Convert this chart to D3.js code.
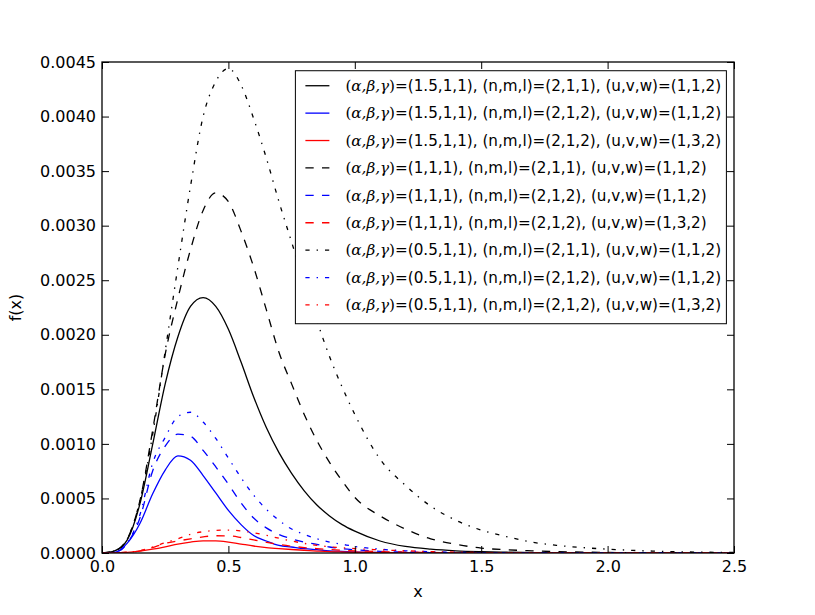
<!DOCTYPE html>
<html lang="en">
<head>
    <meta charset="UTF-8">
    <title>f(x)</title>
    <style>
        body {
            margin: 0;
            background: #fff;
        }

        text {
            font-family: 'DejaVu Sans', sans-serif;
        }
    </style>
</head>
<body>
<script src="https://cdnjs.cloudflare.com/ajax/libs/d3/7.8.5/d3.min.js"></script>
<script>
    const xs = [0, 0.05, 0.1, 0.15, 0.2, 0.25, 0.3, 0.35, 0.4, 0.45, 0.5, 0.55, 0.6, 0.65, 0.7, 0.75, 0.8, 0.85, 0.9, 0.95, 1.0,
        1.1, 1.2, 1.3, 1.4, 1.5, 1.6, 1.7, 1.8, 1.9, 2.0, 2.1, 2.2, 2.3, 2.4, 2.5];

    const blackSolid = [0, 0.00002, 0.00012, 0.00045, 0.00099, 0.00155, 0.00198, 0.00226, 0.00234, 0.00226, 0.00205, 0.00175, 0.00143, 0.00115, 0.00092, 0.00073, 0.00057, 0.00044, 0.00034, 0.00026, 0.00020,
        0.00011, 0.00006, 0.000035, 0.00002, 0.000012, 0.000007, 0.000004, 0.000002, 0.000001, 0, 0, 0, 0, 0, 0];
    const blueSolid = [0, 0.000005, 0.00009, 0.00027, 0.00054, 0.00076, 0.00089, 0.00085, 0.00071, 0.00055, 0.00039, 0.00026, 0.00016, 0.00011, 0.00007, 0.000055, 0.00004, 0.00003, 0.00002, 0.000015, 0.00001,
        0.000005, 0.000003, 0.000001, 0, 0, 0, 0, 0, 0, 0, 0, 0, 0, 0, 0];
    const redSolid = [0, 0.000001, 0.000006, 0.000018, 0.000035, 0.000057, 0.000082, 0.0001, 0.000112, 0.000111, 0.0001, 0.000082, 0.000064, 0.00005, 0.00004, 0.000032, 0.000025, 0.000018, 0.000012, 0.000009, 0.000007,
        0.000004, 0.000002, 0.000001, 0, 0, 0, 0, 0, 0, 0, 0, 0, 0, 0, 0];
    const blackDashed = [0, 0.00002, 0.00013, 0.00048, 0.00112, 0.00182, 0.00233, 0.00278, 0.00314, 0.00330, 0.00322, 0.00295, 0.00262, 0.00223, 0.00184, 0.00155, 0.00127, 0.00103, 0.00083, 0.00066, 0.00051,
        0.00034, 0.00022, 0.00013, 0.00008, 0.000045, 0.00003, 0.00002, 0.000012, 0.000008, 0.000005, 0.000003, 0.000002, 0.000001, 0, 0];
    const blueDashed = [0, 0.000005, 0.00009, 0.00032, 0.00075, 0.00098, 0.00109, 0.00107, 0.00094, 0.00079, 0.00063, 0.00046, 0.00032, 0.00023, 0.00017, 0.00013, 0.00010, 0.00008, 0.000055, 0.00004, 0.00003,
        0.000015, 0.000008, 0.000004, 0.000002, 0, 0, 0, 0, 0, 0, 0, 0, 0, 0, 0];
    const redDashed = [0, 0.000001, 0.000007, 0.00002, 0.00005, 0.000088, 0.00011, 0.00013, 0.000148, 0.000158, 0.000157, 0.000142, 0.00012, 0.000098, 0.000078, 0.000062, 0.00005, 0.00004, 0.000032, 0.000025, 0.00002,
        0.000013, 0.000008, 0.000005, 0.000003, 0.000002, 0, 0, 0, 0, 0, 0, 0, 0, 0, 0];
    const blackDashDot = [0, 0.00002, 0.00013, 0.00048, 0.00108, 0.00185, 0.00262, 0.00336, 0.00400, 0.00432, 0.00444, 0.00429, 0.00398, 0.00362, 0.00322, 0.00285, 0.00248, 0.00213, 0.00180, 0.00152, 0.00127,
        0.00086, 0.00062, 0.00043, 0.00030, 0.00021, 0.00015, 0.00010, 0.00007, 0.00005, 0.000035, 0.000024, 0.000016, 0.00001, 0.000007, 0.000005];
    const blueDashDot = [0, 0.000005, 0.00009, 0.00035, 0.00082, 0.00106, 0.00125, 0.00129, 0.00120, 0.00105, 0.00087, 0.00069, 0.00053, 0.00040, 0.00030, 0.00022, 0.00017, 0.00013, 0.00010, 0.00008, 0.00006,
        0.000035, 0.00002, 0.000012, 0.000007, 0.000004, 0.000002, 0, 0, 0, 0, 0, 0, 0, 0, 0];
    const redDashDot = [0, 0.000001, 0.000007, 0.000022, 0.000055, 0.000095, 0.00013, 0.000172, 0.000195, 0.000207, 0.00021, 0.000202, 0.000185, 0.000162, 0.000135, 0.00011, 0.000088, 0.00007, 0.000057, 0.000048, 0.00004,
        0.000029, 0.00002, 0.000013, 0.000008, 0.000005, 0.000003, 0.000002, 0, 0, 0, 0, 0, 0, 0, 0];

    const legendLabels = [
        '=(1.5,1,1), (n,m,l)=(2,1,1), (u,v,w)=(1,1,2)',
        '=(1.5,1,1), (n,m,l)=(2,1,2), (u,v,w)=(1,1,2)',
        '=(1.5,1,1), (n,m,l)=(2,1,2), (u,v,w)=(1,3,2)',
        '=(1,1,1), (n,m,l)=(2,1,1), (u,v,w)=(1,1,2)',
        '=(1,1,1), (n,m,l)=(2,1,2), (u,v,w)=(1,1,2)',
        '=(1,1,1), (n,m,l)=(2,1,2), (u,v,w)=(1,3,2)',
        '=(0.5,1,1), (n,m,l)=(2,1,1), (u,v,w)=(1,1,2)',
        '=(0.5,1,1), (n,m,l)=(2,1,2), (u,v,w)=(1,1,2)',
        '=(0.5,1,1), (n,m,l)=(2,1,2), (u,v,w)=(1,3,2)'
    ];
    const xTicks = [0, 0.5, 1.0, 1.5, 2.0, 2.5];
    const yTicks = [0, 0.0005, 0.001, 0.0015, 0.002, 0.0025, 0.003, 0.0035, 0.004, 0.0045];

    const width = 815;
    const height = 615;
    const margin = {top: 62, right: 81, bottom: 62, left: 102};
    const innerW = width - margin.left - margin.right;
    const innerH = height - margin.top - margin.bottom;

    const DASH = {
        solid: null,
        dashed: '8.3,8.3',
        dashdot: '4.2,7,1.4,7'
    };

    const series = [
        {values: blackSolid, color: '#000000', dash: DASH.solid},
        {values: blueSolid, color: '#0000ff', dash: DASH.solid},
        {values: redSolid, color: '#ff0000', dash: DASH.solid},
        {values: blackDashed, color: '#000000', dash: DASH.dashed},
        {values: blueDashed, color: '#0000ff', dash: DASH.dashed},
        {values: redDashed, color: '#ff0000', dash: DASH.dashed},
        {values: blackDashDot, color: '#000000', dash: DASH.dashdot},
        {values: blueDashDot, color: '#0000ff', dash: DASH.dashdot},
        {values: redDashDot, color: '#ff0000', dash: DASH.dashdot}
    ].map((s, i) => Object.assign(s, {label: legendLabels[i]}));

    const x = d3.scaleLinear().domain([0, 2.5]).range([0, innerW]);
    const y = d3.scaleLinear().domain([0, 0.0045]).range([innerH, 0]);

    const svg = d3.select('body')
        .append('svg')
        .attr('width', width)
        .attr('height', height);

    const g = svg.append('g')
        .attr('transform', `translate(${margin.left},${margin.top})`);

    g.append('clipPath')
        .attr('id', 'plot-clip')
        .append('rect')
        .attr('width', innerW)
        .attr('height', innerH);

    const line = d3.line()
        .x((d, i) => x(xs[i]))
        .y(d => y(d))
        .curve(d3.curveMonotoneX);

    g.append('g')
        .attr('clip-path', 'url(#plot-clip)')
        .selectAll('path')
        .data(series)
        .enter()
        .append('path')
        .attr('d', d => line(d.values))
        .attr('fill', 'none')
        .attr('stroke', d => d.color)
        .attr('stroke-width', 1.3)
        .attr('stroke-dasharray', d => d.dash);

    // axes, ticks pointing inward on all four sides
    const tickLen = 7;
    const styleAxis = sel => {
        sel.select('.domain').remove();
        sel.selectAll('.tick line').attr('stroke', '#000').attr('stroke-width', 1);
        sel.selectAll('.tick text')
            .attr('fill', '#000')
            .style('font-size', '16px')
            .style('font-family', "'DejaVu Sans', sans-serif");
    };

    g.append('g')
        .attr('transform', `translate(0,${innerH})`)
        .call(d3.axisBottom(x).tickValues(xTicks).tickFormat(d3.format('.1f'))
            .tickSizeInner(-tickLen).tickSizeOuter(0).tickPadding(8))
        .call(styleAxis);

    g.append('g')
        .call(d3.axisTop(x).tickValues(xTicks).tickFormat('')
            .tickSizeInner(-tickLen).tickSizeOuter(0))
        .call(styleAxis);

    g.append('g')
        .call(d3.axisLeft(y).tickValues(yTicks).tickFormat(d3.format('.4f'))
            .tickSizeInner(-tickLen).tickSizeOuter(0).tickPadding(6))
        .call(styleAxis);

    g.append('g')
        .attr('transform', `translate(${innerW},0)`)
        .call(d3.axisRight(y).tickValues(yTicks).tickFormat('')
            .tickSizeInner(-tickLen).tickSizeOuter(0))
        .call(styleAxis);

    g.append('rect')
        .attr('width', innerW)
        .attr('height', innerH)
        .attr('fill', 'none')
        .attr('stroke', '#000')
        .attr('stroke-width', 1.3);

    g.append('text')
        .attr('x', innerW / 2)
        .attr('y', innerH + 44)
        .attr('text-anchor', 'middle')
        .style('font-size', '16px')
        .text('x');

    g.append('text')
        .attr('transform', `translate(${-81},${innerH / 2}) rotate(-90)`)
        .attr('text-anchor', 'middle')
        .style('font-size', '16px')
        .text('f(x)');

    // legend
    const legend = g.append('g')
        .attr('transform', `translate(${x(0.765)},${y(0.00442)})`);

    const rowH = 27.4;
    const legendW = 431;
    const legendH = 253;

    legend.append('rect')
        .attr('width', legendW)
        .attr('height', legendH)
        .attr('fill', '#fff')
        .attr('stroke', '#000')
        .attr('stroke-width', 1);

    const rows = legend.selectAll('.legend-row')
        .data(series)
        .enter()
        .append('g')
        .attr('class', 'legend-row')
        .attr('transform', (d, i) => `translate(0,${15 + i * rowH})`);

    rows.append('line')
        .attr('x1', 10)
        .attr('x2', 34)
        .attr('stroke', d => d.color)
        .attr('stroke-width', 1.3)
        .attr('stroke-dasharray', d => d.dash);

    const labels = rows.append('text')
        .attr('x', 50)
        .attr('dy', '0.35em')
        .style('font-size', '15.2px');

    labels.append('tspan')
        .style('font-family', "'DejaVu Serif', serif")
        .text('(');
    labels.append('tspan')
        .style('font-family', "'DejaVu Serif', serif")
        .style('font-style', 'italic')
        .text('α,β,γ');
    labels.append('tspan')
        .style('font-family', "'DejaVu Serif', serif")
        .text(')');
    labels.append('tspan')
        .text(d => d.label);
</script>
</body>
</html>
